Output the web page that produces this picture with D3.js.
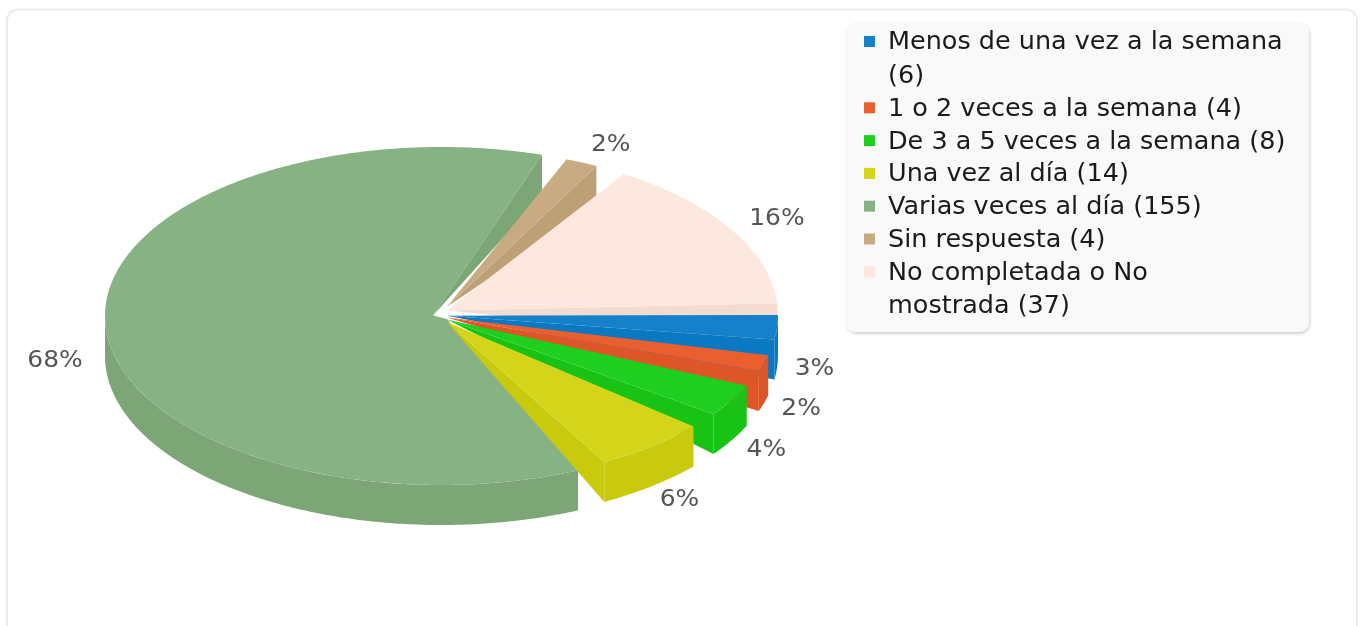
<!DOCTYPE html>
<html>
<head>
<meta charset="utf-8">
<script src="https://cdn.jsdelivr.net/npm/d3@7/dist/d3.min.js"></script>
<style>
html,body{margin:0;padding:0;background:#fff;overflow:hidden}
svg{display:block;filter:blur(.5px)}
text{font-family:"DejaVu Sans",sans-serif}
</style>
</head>
<body>
<svg id="chart" width="1360" height="626"></svg>
<script>
const categories = ["Menos de una vez a la semana","1 o 2 veces a la semana","De 3 a 5 veces a la semana","Una vez al día","Varias veces al día","Sin respuesta","No completada o No mostrada"];
const counts = [6,4,8,14,155,4,37];
const legendBreakAfterWord = [7,null,null,null,null,null,4];
const topColors = ["#1581cb","#e95f30","#1fcf1f","#d4d51a","#87b283","#c8ab82","#fce8de"];
const wallColors = ["#0b79c2","#de5527","#18c315","#c9c90e","#7ca676","#bea077","#f3dccf"];
const drawOrder = [4,5,6,0,1,2,3];
const startBleedDeg = [0,0,0,0,1.2,0,0];
const endBleedDeg = [0,0,0,0,1.8,0,1.5];

const W = 1360, H = 626;
const cx = 447, cy = 315, rx = 331, ry = 167, depth = 40, stretch = 1.062;
const total = d3.sum(counts);
const pct = d3.format(".0%");
const rad = Math.PI/180;
const svg = d3.select("#chart");

svg.append("rect").attr("x",7).attr("y",9.5).attr("width",1350).attr("height",H+30)
  .attr("rx",11).attr("fill","#fff").attr("stroke","#ececec").attr("stroke-width",2);

const defs = svg.append("defs");
const shadow = defs.append("filter").attr("id","legendShadow").attr("x","-5%").attr("y","-5%").attr("width","110%").attr("height","110%");
shadow.append("feDropShadow").attr("dx",1).attr("dy",2).attr("stdDeviation",1.5).attr("flood-color","#000").attr("flood-opacity",.18);

const sx = d3.scaleLinear().domain([-1,1]).range([cx-rx,cx+rx]);
const sy = d3.scaleLinear().domain([-1,1]).range([cy-ry,cy+ry]);

const arcs = d3.pie().value(d=>d).sort(null).startAngle(0).endAngle(2*Math.PI).padAngle(5.5*rad)(counts);
const line = d3.line();

arcs.forEach((d,i)=>{
  d.a0 = d.startAngle-startBleedDeg[i]*rad;
  d.a1 = d.endAngle-d.padAngle+endBleedDeg[i]*rad;
  d.mid = (d.a0+d.a1)/2;
  const west = Math.min(0,Math.cos(d.mid));      // only the large west-facing slice is pushed outward
  d.ox = west*6; d.oy = west*-1;
  d.apex = [cx+west*14, cy+Math.sin(d.mid)*9];
  d.big = d.a1-d.a0>Math.PI;
});

function rim(d,a0,a1,dy){
  const n = Math.max(2,Math.ceil((a1-a0)/0.01));
  const k = d.big ? 1.0151 : 1, ky = d.big ? 1.012 : 1;
  return d3.range(n+1).map(j=>{
    const a = a0+(a1-a0)*j/n;
    return [sx(Math.cos(a)*k)+d.ox, sy(Math.sin(a)*ky)+d.oy+dy];
  });
}

const g = svg.append("g");
drawOrder.forEach(i=>{
  const d = arcs[i];
  const top = rim(d,d.a0,d.a1,0);
  const end = top[top.length-1];
  g.append("path").attr("d",line([d.apex,end,[end[0],end[1]+depth]])+"Z").attr("fill",wallColors[i]);
  const a1 = Math.min(d.a1,Math.PI);
  if (d.a0<Math.PI){
    const t = rim(d,d.a0,a1,0), b = rim(d,d.a0,a1,depth).reverse();
    g.append("path").attr("d",line(t.concat(b))+"Z").attr("fill",wallColors[i]);
  }
  const lead = d.big ? [d.apex,[cx,cy+4]] : [d.apex];
  g.append("path").attr("d",line(lead.concat(top))+"Z").attr("fill",topColors[i]);
});

const lrx = 368, lry = 184;
arcs.forEach((d,i)=>{
  const s = Math.sin(d.mid), c = Math.cos(d.mid);
  const west = Math.min(0,c), front = s>0;
  const x = cx+lrx*c+(front?s*6:14)+west*25;
  const y = cy+lry*s+(front?depth-2:-4)+west*5;
  svg.append("text").attr("transform",`translate(${x},${y}) scale(${stretch},1)`)
    .attr("dy",".36em").attr("text-anchor","middle")
    .attr("font-size",23.5).attr("fill","#555").text(pct(counts[i]/total));
});

const lg = svg.append("g");
lg.append("rect").attr("x",846).attr("y",22).attr("width",463).attr("height",310).attr("rx",10)
  .attr("fill","#f9f9f9").attr("filter","url(#legendShadow)");
const textX = 888, fs = 24, lineH = 33.5, itemGap = 32.8;
let yc = 41;
categories.forEach((c,i)=>{
  const words = (c+" ("+counts[i]+")").split(" ");
  const br = legendBreakAfterWord[i];
  const lines = br ? [words.slice(0,br).join(" "),words.slice(br).join(" ")] : [words.join(" ")];
  lg.append("rect").attr("x",864).attr("y",yc-5).attr("width",11).attr("height",11).attr("fill",topColors[i]);
  lines.forEach((l,j)=>{
    lg.append("text").attr("transform",`translate(${textX},${yc+j*lineH}) scale(${stretch},1)`).attr("dy",".35em")
      .attr("font-size",fs).attr("fill","#1a1a1a").text(l);
  });
  yc += (lines.length-1)*lineH+itemGap;
});
</script>
</body>
</html>
